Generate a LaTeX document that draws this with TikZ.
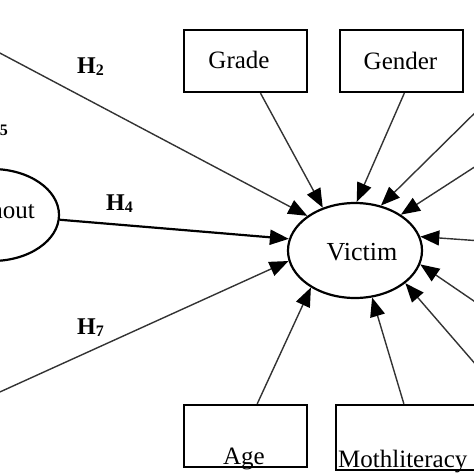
\documentclass[tikz,border=0pt]{standalone}
\usepackage{fontspec}
\setmainfont{Liberation Serif}
\usetikzlibrary{shapes.geometric,arrows.meta}
\newcommand\hyplabel[1]{\textbf{H\raisebox{-2pt}{\fontsize{16}{16}\selectfont #1}}}
\begin{document}
\begin{tikzpicture}[x=1pt,y=-1pt,
  boxnode/.style={draw, line width=2.3pt, minimum width=123pt, minimum height=62pt, inner sep=0pt},
  ovalnode/.style={draw, ellipse, line width=2.2pt, inner sep=0pt},
  lbl/.style={font=\fontsize{25}{30}\selectfont, inner sep=0pt},
  hyp/.style={font=\fontsize{24}{28}\selectfont, inner sep=0pt},
  tipshape/.tip={Triangle[length=19pt,width=15pt,color=black]},
  arr/.style={-tipshape, line width=1.4pt, draw=black!80},
]
\useasboundingbox (0,0) rectangle (474,474);

% nodes
\node[ovalnode, minimum width=134pt, minimum height=95pt] (victim) at (355,250.5) {};
\node[lbl, font=\fontsize{26}{30}\selectfont, anchor=base] (victimT) at (362,260) {Victim};
\node[ovalnode, minimum width=134pt, minimum height=92pt] (burnout) at (-8,215) {};
\node[lbl, anchor=base east] (burnoutT) at (35,218) {Burnout};

\node[boxnode] (grade) at (245.5,61) {};
\node[lbl, anchor=base] (gradeT) at (239,68) {Grade};
\node[boxnode] (gender) at (401.5,61) {};
\node[lbl, anchor=base] (genderT) at (400.5,69) {Gender};
\node[boxnode] (age) at (245.5,436) {};
\node[lbl, anchor=base] (ageT) at (244,464) {Age};
\node[boxnode, minimum width=144pt, minimum height=65pt] (moth) at (408,437.5) {};
\node[lbl, anchor=base west] (mothT) at (338,467) {Mothliteracy};

% hypothesis labels
\node[hyp, anchor=base west] (h2) at (77,73) {\hyplabel{2}};
\node[hyp, anchor=base west] (h4) at (106,210) {\hyplabel{4}};
\node[hyp, anchor=base west] (h7) at (77,334) {\hyplabel{7}};
\node[hyp, anchor=base east] (h5) at (8,133) {\hyplabel{5}};

% off-picture sources
\coordinate (srcH2) at (-20,42.5);
\coordinate (srcH7) at (-20,401);
\coordinate (srcR1) at (490,98);
\coordinate (srcR2) at (490,157);
\coordinate (srcR3) at (490,241.6);
\coordinate (srcR4) at (490,312);
\coordinate (srcR5) at (490,381);

% connectors
\draw[arr] (srcH2) -- (victim.144);
\draw[arr, line width=2.2pt, draw=black] (burnout.-4) -- (victim.170);
\draw[arr] (srcH7) -- (victim.189.5);
\draw[arr] (grade.-65) -- (victim.127);
\draw[arr] (gender.-85) -- (victim.88);
\draw[arr] (srcR1) -- (victim.60);
\draw[arr] (srcR2) -- (victim.38.5);
\draw[arr] (srcR3) -- (victim.12.5);
\draw[arr] (srcR4) -- (victim.-12);
\draw[arr] (srcR5) -- (victim.-33);
\draw[arr] (moth.97) -- (victim.-70);
\draw[arr] (age.70) -- (victim.220);
\end{tikzpicture}
\end{document}
